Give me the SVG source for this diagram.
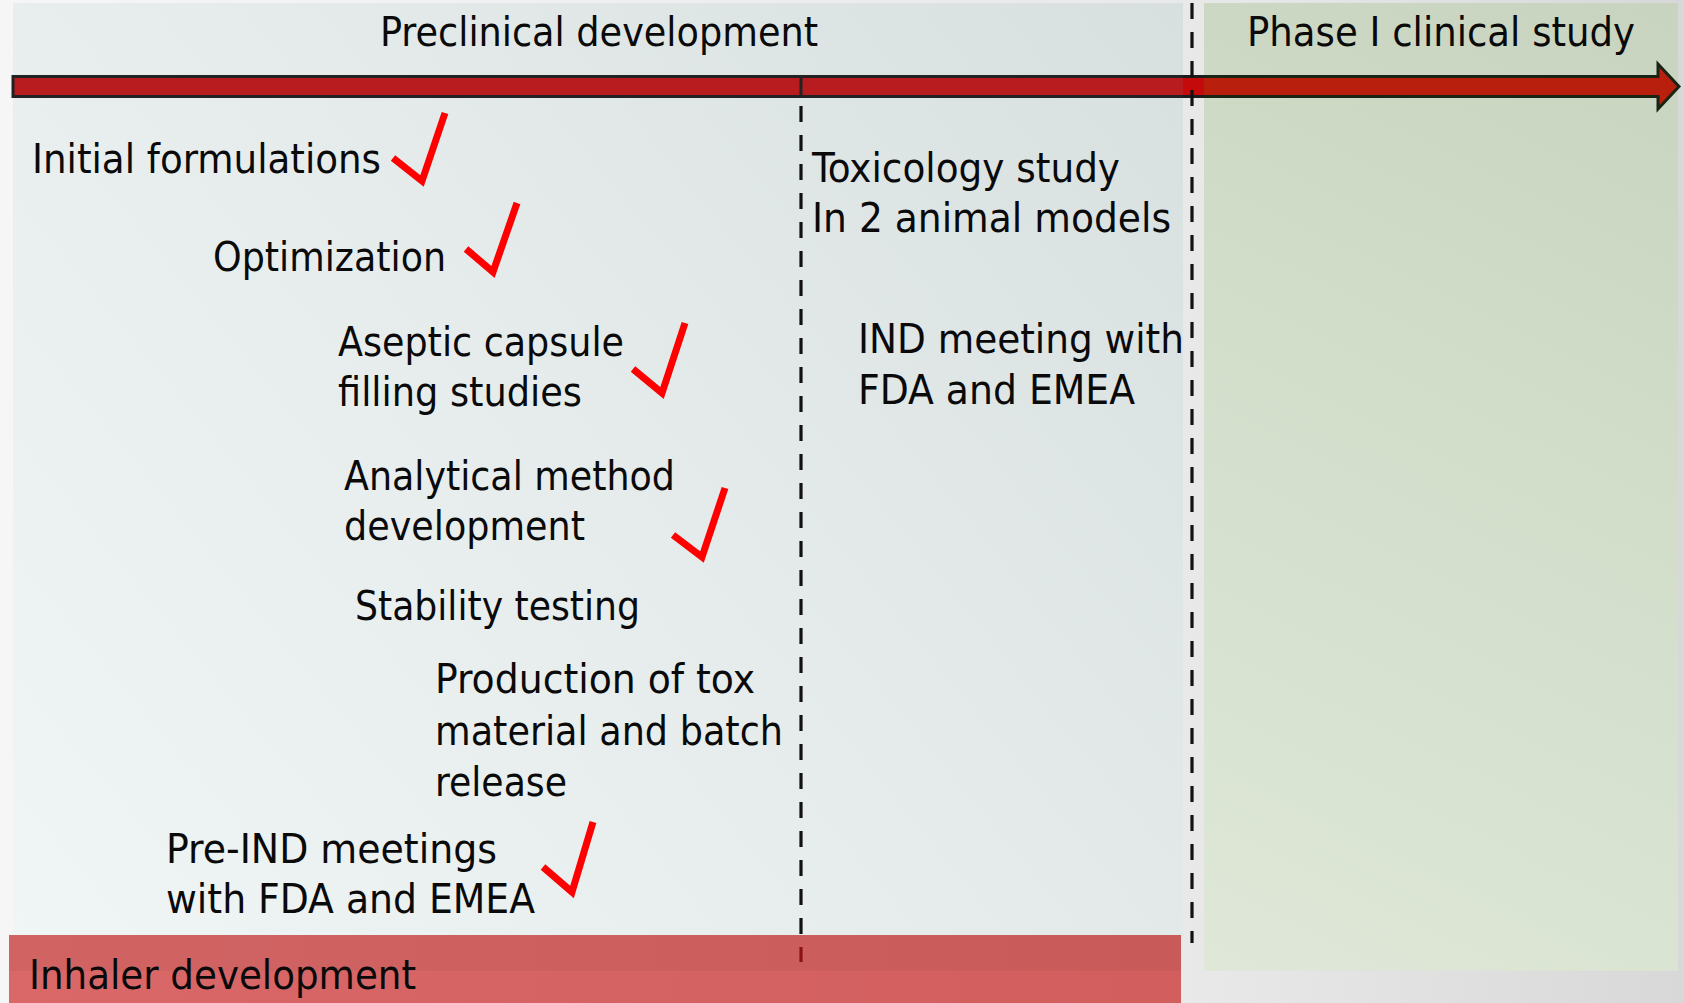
<svg xmlns="http://www.w3.org/2000/svg" width="1684" height="1003" viewBox="0 0 1684 1003">
  <defs>
    <style>
      .lbl { font-family: "DejaVu Sans Condensed", "DejaVu Sans", sans-serif; font-size: 41px; fill: #0a0a0a; }
      .check { fill: none; stroke: #ff0000; stroke-width: 7; stroke-linecap: butt; stroke-linejoin: miter; }
      .dash { fill: none; stroke: #111; stroke-width: 3.2; stroke-dasharray: 16 13; }
    </style>
    <linearGradient id="pageBg" x1="0" y1="0" x2="1" y2="0">
      <stop offset="0" stop-color="#f6f6f6"/>
      <stop offset="0.7" stop-color="#e9e9e9"/>
      <stop offset="1" stop-color="#d8d8d8"/>
    </linearGradient>
    <linearGradient id="preBg" gradientUnits="userSpaceOnUse" x1="13" y1="971" x2="1183" y2="3">
      <stop offset="0" stop-color="#f0f5f5"/>
      <stop offset="0.5" stop-color="#e6ecec"/>
      <stop offset="1" stop-color="#d8dfdf"/>
    </linearGradient>
    <linearGradient id="phaseBg" gradientUnits="userSpaceOnUse" x1="1204" y1="971" x2="1678" y2="3">
      <stop offset="0" stop-color="#dfe8d8"/>
      <stop offset="1" stop-color="#c8d4bf"/>
    </linearGradient>
    <linearGradient id="inhalerBg" x1="0" y1="0" x2="1" y2="0">
      <stop offset="0" stop-color="#da6868"/>
      <stop offset="1" stop-color="#d25e5e"/>
    </linearGradient>
    <clipPath id="clipLeft"><rect x="0" y="0" width="1183" height="140"/></clipPath>
    <clipPath id="clipGap"><rect x="1183" y="0" width="21" height="140"/></clipPath>
    <clipPath id="clipRight"><rect x="1204" y="0" width="480" height="140"/></clipPath>
  </defs>

  <!-- page and phase panels -->
  <rect x="0" y="0" width="1684" height="1003" fill="url(#pageBg)"/>
  <rect x="13" y="3" width="1170" height="968" fill="url(#preBg)"/>
  <rect x="1204" y="3" width="474" height="968" fill="url(#phaseBg)"/>

  <!-- bottom band -->
  <g id="inhaler-development">
    <rect x="9" y="935" width="1172" height="68" fill="url(#inhalerBg)"/>
    <rect x="9" y="935" width="1172" height="36" fill="#000" fill-opacity="0.04"/>
    <text class="lbl" x="29" y="989" textLength="387" lengthAdjust="spacingAndGlyphs">Inhaler development</text>
  </g>

  <!-- timeline arrow and phase dividers -->
  <g id="connectors">
    <g stroke-width="3" stroke-linejoin="miter">
      <path clip-path="url(#clipLeft)" d="M13,76.5 H1658 V64 L1679,86.5 L1658,109 V96.5 H13 Z" fill="#b91c1f" stroke="#222"/>
      <path clip-path="url(#clipGap)" d="M13,76.5 H1658 V64 L1679,86.5 L1658,109 V96.5 H13 Z" fill="#c40a0a" stroke="#1c1c1c"/>
      <path clip-path="url(#clipRight)" d="M13,76.5 H1658 V64 L1679,86.5 L1658,109 V96.5 H13 Z" fill="#b81f0c" stroke="#1a2414"/>
    </g>
    <!-- end of preclinical formulation work -->
    <line x1="801" y1="77" x2="801" y2="96" stroke="#222" stroke-width="3"/>
    <line class="dash" x1="801" y1="106" x2="801" y2="934"/>
    <line x1="801" y1="947" x2="801" y2="962" stroke="#8a1414" stroke-width="3.2"/>
    <!-- start of clinical phase -->
    <line class="dash" x1="1192" y1="3" x2="1192" y2="943" stroke-dasharray="14 14.5"/>
  </g>

  <!-- phase headings -->
  <g id="preclinical-development">
    <text class="lbl" x="380" y="46" textLength="438" lengthAdjust="spacingAndGlyphs">Preclinical development</text>
  </g>
  <g id="phase-1-clinical-study">
    <text class="lbl" x="1247" y="46" textLength="388" lengthAdjust="spacingAndGlyphs">Phase I clinical study</text>
  </g>

  <!-- preclinical tasks -->
  <g id="initial-formulations">
    <text class="lbl" x="32" y="173" textLength="349" lengthAdjust="spacingAndGlyphs">Initial formulations</text>
    <polyline class="check" points="393,158 422,181 445,113"/>
  </g>
  <g id="optimization">
    <text class="lbl" x="213" y="271" textLength="233" lengthAdjust="spacingAndGlyphs">Optimization</text>
    <polyline class="check" points="466,249 493,272 517,203"/>
  </g>
  <g id="aseptic-capsule-filling">
    <text class="lbl" x="338" y="356" textLength="286" lengthAdjust="spacingAndGlyphs">Aseptic capsule</text>
    <text class="lbl" x="338" y="406" textLength="244" lengthAdjust="spacingAndGlyphs">filling studies</text>
    <polyline class="check" points="633,369 662,393 685,323"/>
  </g>
  <g id="analytical-method-development">
    <text class="lbl" x="344" y="490" textLength="331" lengthAdjust="spacingAndGlyphs">Analytical method</text>
    <text class="lbl" x="344" y="540" textLength="241" lengthAdjust="spacingAndGlyphs">development</text>
    <polyline class="check" points="673,535 702,557 725,488"/>
  </g>
  <g id="stability-testing">
    <text class="lbl" x="355" y="620" textLength="285" lengthAdjust="spacingAndGlyphs">Stability testing</text>
  </g>
  <g id="tox-material-production">
    <text class="lbl" x="435" y="693" textLength="320" lengthAdjust="spacingAndGlyphs">Production of tox</text>
    <text class="lbl" x="435" y="745" textLength="348" lengthAdjust="spacingAndGlyphs">material and batch</text>
    <text class="lbl" x="435" y="796" textLength="132" lengthAdjust="spacingAndGlyphs">release</text>
  </g>
  <g id="pre-ind-meetings">
    <text class="lbl" x="166" y="863" textLength="331" lengthAdjust="spacingAndGlyphs">Pre-IND meetings</text>
    <text class="lbl" x="166" y="913" textLength="369" lengthAdjust="spacingAndGlyphs">with FDA and EMEA</text>
    <polyline class="check" points="543,867 572,892 593,822"/>
  </g>

  <!-- later preclinical tasks -->
  <g id="toxicology-study">
    <text class="lbl" x="812" y="182" textLength="308" lengthAdjust="spacingAndGlyphs">Toxicology study</text>
    <text class="lbl" x="812" y="232" textLength="359" lengthAdjust="spacingAndGlyphs">In 2 animal models</text>
  </g>
  <g id="ind-meeting">
    <text class="lbl" x="858" y="353" textLength="326" lengthAdjust="spacingAndGlyphs">IND meeting with</text>
    <text class="lbl" x="858" y="404" textLength="277" lengthAdjust="spacingAndGlyphs">FDA and EMEA</text>
  </g>
</svg>
